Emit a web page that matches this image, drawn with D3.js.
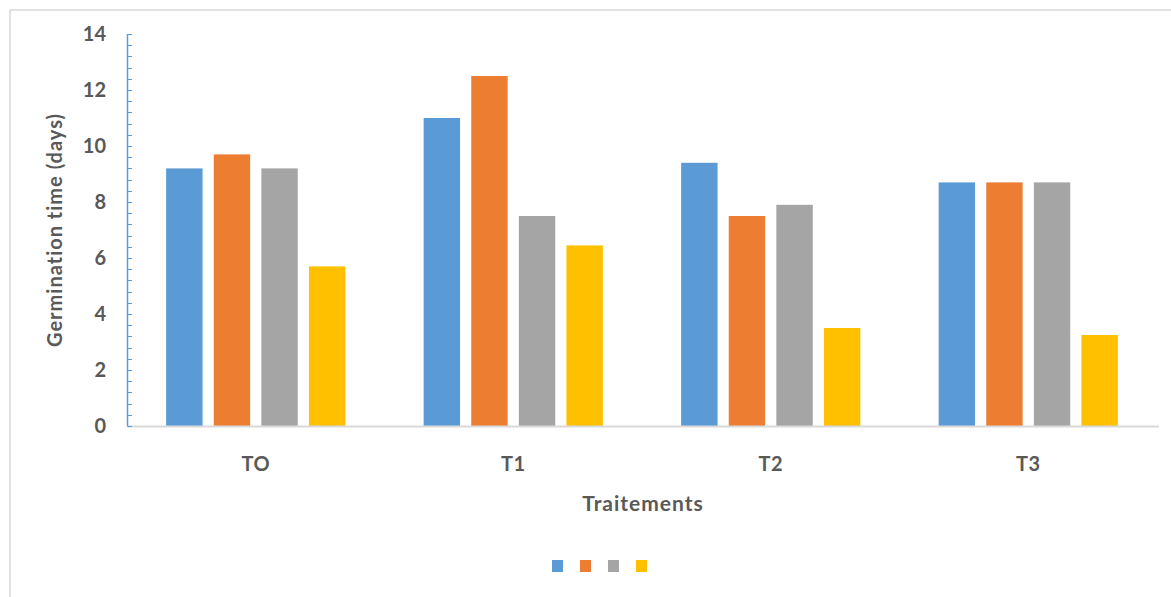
<!DOCTYPE html>
<html>
<head>
<meta charset="utf-8">
<script src="https://cdn.jsdelivr.net/npm/d3@7"></script>
<style>
  html, body { margin: 0; padding: 0; background: #fff; }
  svg { display: block; }
  text { font-family: Lato, "Liberation Sans", Arial, sans-serif; font-weight: bold; fill: #595959; }
</style>
</head>
<body>
<script>
// Germination time per treatment, four replicate series
const categories = ["TO", "T1", "T2", "T3"];
const series1 = [9.2, 11.0, 9.4, 8.7];
const series2 = [9.7, 12.5, 7.5, 8.7];
const series3 = [9.2, 7.5, 7.9, 8.7];
const series4 = [5.7, 6.45, 3.5, 3.25];
const seriesColors = ["#5b9bd5", "#ed7d31", "#a5a5a5", "#ffc000"];
const yTicks = [0, 2, 4, 6, 8, 10, 12, 14];

const allSeries = [series1, series2, series3, series4];
const W = 1171, H = 597;
const margin = { left: 127, right: 14, top: 34, bottom: 171 };

const svg = d3.select("body").append("svg").attr("width", W).attr("height", H);

// outer chart border (runs past the right and bottom edges)
svg.append("rect")
  .attr("x", 10).attr("y", 10)
  .attr("width", W + 10).attr("height", H + 10)
  .attr("fill", "none").attr("stroke", "#d9d9d9").attr("stroke-width", 1.5);

const x = d3.scaleBand().domain(categories).range([margin.left, W - margin.right]);
const y = d3.scaleLinear().domain([0, 14]).range([H - margin.bottom, margin.top]);
const inner = d3.scaleBand().domain(d3.range(allSeries.length))
  .range([x.bandwidth() * 0.152, x.bandwidth() * 0.848]).paddingInner(0.235);

// bars
const groups = svg.append("g").selectAll("g").data(categories).join("g")
  .attr("transform", d => `translate(${x(d)},0)`);
groups.selectAll("rect")
  .data((d, i) => allSeries.map((s, k) => ({ k, v: s[i] })))
  .join("rect")
  .attr("x", d => inner(d.k))
  .attr("width", inner.bandwidth())
  .attr("y", d => y(d.v))
  .attr("height", d => y(0) - y(d.v))
  .attr("fill", d => seriesColors[d.k]);

// baseline
svg.append("line")
  .attr("x1", margin.left).attr("x2", W - margin.right + 2)
  .attr("y1", y(0) + 0.5).attr("y2", y(0) + 0.5)
  .attr("stroke", "#d9d9d9").attr("stroke-width", 2);

// y axis with minor ticks pointing inward
const yAxisG = svg.append("g").attr("transform", `translate(${margin.left},0)`);
yAxisG.append("line")
  .attr("x1", 0.5).attr("x2", 0.5)
  .attr("y1", y(14)).attr("y2", y(0))
  .attr("stroke", "#5b9bd5").attr("stroke-width", 1.5);
const minor = d3.range(0, 14.001, 0.4);
yAxisG.selectAll("line.minor").data(minor).join("line")
  .attr("class", "minor")
  .attr("x1", 0.5).attr("x2", 5)
  .attr("y1", d => Math.round(y(d)) + 0.5).attr("y2", d => Math.round(y(d)) + 0.5)
  .attr("stroke", "#5b9bd5").attr("stroke-width", 1);
yAxisG.selectAll("text").data(yTicks).join("text")
  .attr("x", -21).attr("y", d => y(d))
  .attr("dy", "0.36em").attr("text-anchor", "end")
  .attr("font-size", 20)
  .text(d => d);

// category labels
svg.append("g").selectAll("text").data(categories).join("text")
  .attr("x", d => x(d) + x.bandwidth() / 2)
  .attr("y", 471)
  .attr("text-anchor", "middle").attr("font-size", 20)
  .attr("letter-spacing", 0.5)
  .text(d => d);

// axis titles
svg.append("text")
  .attr("x", 643).attr("y", 511)
  .attr("text-anchor", "middle").attr("font-size", 21)
  .attr("letter-spacing", 1)
  .text("Traitements");
svg.append("text")
  .attr("transform", `translate(62,${(y(0) + y(14)) / 2}) rotate(-90)`)
  .attr("text-anchor", "middle").attr("font-size", 20)
  .attr("letter-spacing", 1)
  .text("Germination time (days)");

// legend swatches
svg.append("g").selectAll("rect").data(seriesColors).join("rect")
  .attr("x", (d, i) => 552 + i * 28)
  .attr("y", 560)
  .attr("width", 11).attr("height", 12)
  .attr("fill", d => d);
</script>
</body>
</html>
